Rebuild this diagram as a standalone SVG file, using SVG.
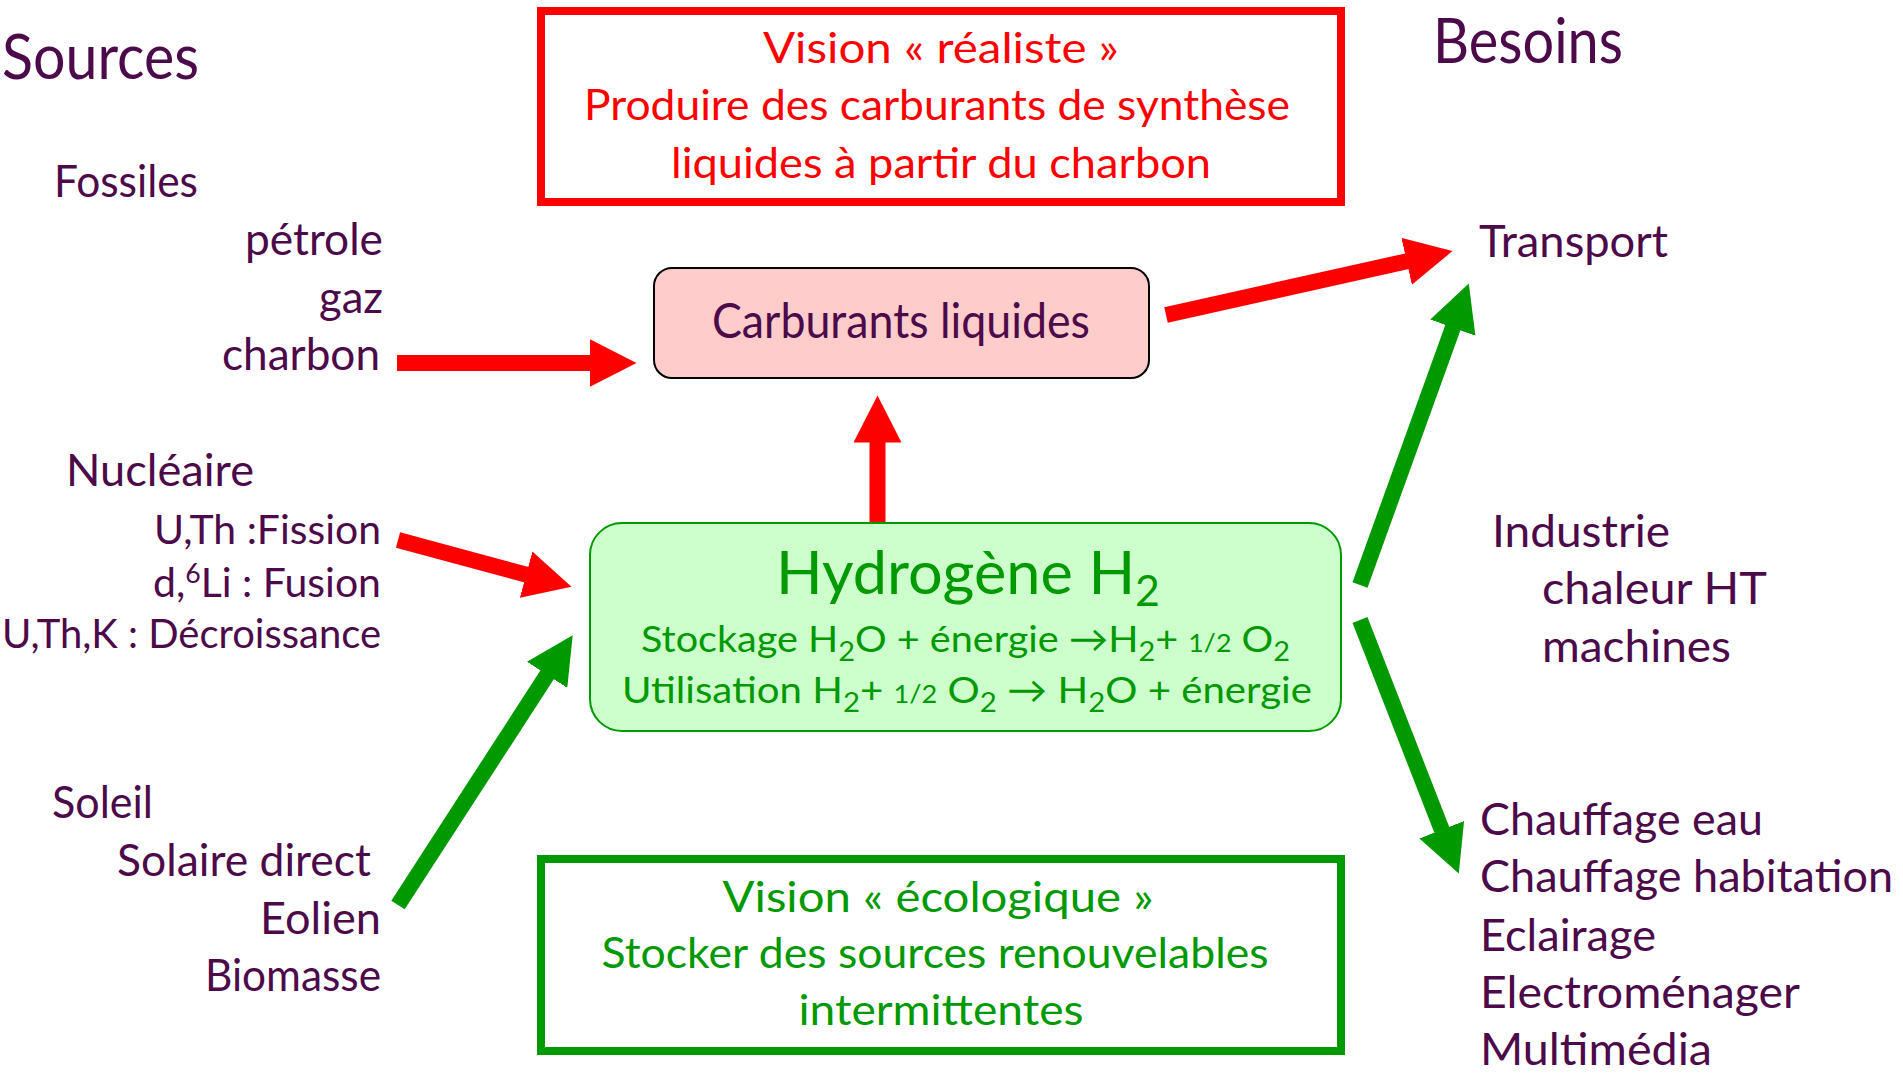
<svg xmlns="http://www.w3.org/2000/svg" width="1903" height="1073" viewBox="0 0 1903 1073">
<style>
text{font-family:Lato,"Open Sans","Liberation Sans",sans-serif;font-weight:400}
.p{fill:#4d0a4a}
.r{fill:#ff0000}
.g{fill:#009900}
.big{font-size:62px}
.mid{font-size:44px}
.sm{font-size:40px}
.vis{font-size:43px;text-anchor:middle}
.end{text-anchor:end}
.red{stroke:#ff0000;stroke-width:16;fill:none;marker-end:url(#hr)}
.grn{stroke:#009900;stroke-width:16;fill:none;marker-end:url(#hg)}
</style>
<defs>
<marker id="hr" markerUnits="userSpaceOnUse" markerWidth="48" markerHeight="48" refX="0.5" refY="24" orient="auto"><path d="M0,0 L47,24 L0,48 Z" fill="#ff0000"/></marker>
<marker id="hg" markerUnits="userSpaceOnUse" markerWidth="48" markerHeight="48" refX="0.5" refY="24" orient="auto"><path d="M0,0 L47,24 L0,48 Z" fill="#009900"/></marker>
</defs>
<rect width="1903" height="1073" fill="#ffffff"/>

<g id="sources">
<text class="p big" x="2" y="79" textLength="197" lengthAdjust="spacingAndGlyphs">Sources</text>
</g>
<g id="besoins">
<text class="p big" x="1433" y="63" textLength="190" lengthAdjust="spacingAndGlyphs">Besoins</text>
</g>

<g id="fossiles">
<text class="p mid" x="54" y="197" textLength="144" lengthAdjust="spacingAndGlyphs">Fossiles</text>
<text class="p mid end" x="383" y="255" textLength="138" lengthAdjust="spacingAndGlyphs">pétrole</text>
<text class="p mid end" x="383" y="313" textLength="64" lengthAdjust="spacingAndGlyphs">gaz</text>
<text class="p mid end" x="380" y="370" textLength="158" lengthAdjust="spacingAndGlyphs">charbon</text>
</g>

<g id="nucleaire">
<text class="p mid" x="66" y="486" textLength="188" lengthAdjust="spacingAndGlyphs">Nucléaire</text>
<text class="p sm end" x="381" y="544" textLength="227" lengthAdjust="spacingAndGlyphs">U,Th :Fission</text>
<text class="p sm end" x="381" y="597" textLength="228" lengthAdjust="spacingAndGlyphs">d,<tspan font-size="26" dy="-14">6</tspan><tspan dy="14">Li : Fusion</tspan></text>
<text class="p sm end" x="381" y="648" textLength="379" lengthAdjust="spacingAndGlyphs">U,Th,K : Décroissance</text>
</g>

<g id="soleil">
<text class="p mid" x="52" y="818" textLength="101" lengthAdjust="spacingAndGlyphs">Soleil</text>
<text class="p mid" x="117" y="876" textLength="254" lengthAdjust="spacingAndGlyphs">Solaire direct</text>
<text class="p mid end" x="381" y="934" textLength="121" lengthAdjust="spacingAndGlyphs">Eolien</text>
<text class="p mid end" x="381" y="991" textLength="176" lengthAdjust="spacingAndGlyphs">Biomasse</text>
</g>

<g id="vision-realiste">
<rect x="541" y="11" width="800" height="191" fill="none" stroke="#ff0000" stroke-width="8"/>
<text class="r vis" x="941" y="63" textLength="356" lengthAdjust="spacingAndGlyphs">Vision « réaliste »</text>
<text class="r vis" x="937" y="120" textLength="706" lengthAdjust="spacingAndGlyphs">Produire des carburants de synthèse</text>
<text class="r vis" x="941" y="178" textLength="540" lengthAdjust="spacingAndGlyphs">liquides à partir du charbon</text>
</g>

<g id="carburants">
<rect x="654" y="268" width="495" height="110" rx="18" ry="18" fill="#ffcccc" stroke="#000000" stroke-width="2"/>
<text class="p" font-size="48" text-anchor="middle" x="901" y="338" textLength="378" lengthAdjust="spacingAndGlyphs">Carburants liquides</text>
</g>

<g id="hydrogene">
<rect x="590" y="523" width="751" height="208" rx="32" ry="32" fill="#ccffcc" stroke="#009900" stroke-width="2"/>
<text class="g" font-size="60" x="776" y="594" textLength="384" lengthAdjust="spacingAndGlyphs">Hydrogène H<tspan font-size="42" dy="12">2</tspan></text>
<text class="g" font-size="37" x="641" y="652" textLength="649" lengthAdjust="spacingAndGlyphs">Stockage H<tspan font-size="27" dy="9">2</tspan><tspan dy="-9">O + énergie →H</tspan><tspan font-size="27" dy="9">2</tspan><tspan dy="-9">+ </tspan><tspan font-size="25">1/2</tspan><tspan> O</tspan><tspan font-size="27" dy="9">2</tspan></text>
<text class="g" font-size="37" x="622" y="703" textLength="690" lengthAdjust="spacingAndGlyphs">Utilisation H<tspan font-size="27" dy="9">2</tspan><tspan dy="-9">+ </tspan><tspan font-size="25">1/2</tspan><tspan> O</tspan><tspan font-size="27" dy="9">2</tspan><tspan dy="-9"> → H</tspan><tspan font-size="27" dy="9">2</tspan><tspan dy="-9">O + énergie</tspan></text>
</g>

<g id="vision-ecologique">
<rect x="541" y="859" width="800" height="192" fill="none" stroke="#009900" stroke-width="8"/>
<text class="g vis" x="938" y="912" textLength="431" lengthAdjust="spacingAndGlyphs">Vision « écologique »</text>
<text class="g vis" x="935" y="968" textLength="667" lengthAdjust="spacingAndGlyphs">Stocker des sources renouvelables</text>
<text class="g vis" x="941" y="1025" textLength="285" lengthAdjust="spacingAndGlyphs">intermittentes</text>
</g>

<g id="transport">
<text class="p mid" x="1479" y="257" textLength="189" lengthAdjust="spacingAndGlyphs">Transport</text>
</g>

<g id="industrie">
<text class="p mid" x="1492" y="547" textLength="178" lengthAdjust="spacingAndGlyphs">Industrie</text>
<text class="p mid" x="1542" y="604" textLength="225" lengthAdjust="spacingAndGlyphs">chaleur HT</text>
<text class="p mid" x="1542" y="662" textLength="189" lengthAdjust="spacingAndGlyphs">machines</text>
</g>

<g id="domestique">
<text class="p mid" x="1480" y="835" textLength="283" lengthAdjust="spacingAndGlyphs">Chauffage eau</text>
<text class="p mid" x="1480" y="892" textLength="413" lengthAdjust="spacingAndGlyphs">Chauffage habitation</text>
<text class="p mid" x="1480" y="951" textLength="176" lengthAdjust="spacingAndGlyphs">Eclairage</text>
<text class="p mid" x="1480" y="1008" textLength="320" lengthAdjust="spacingAndGlyphs">Electroménager</text>
<text class="p mid" x="1480" y="1065" textLength="232" lengthAdjust="spacingAndGlyphs">Multimédia</text>
</g>

<g id="connectors">
<line class="red" x1="397" y1="363" x2="590" y2="363"/>
<line class="red" x1="398" y1="540" x2="526.6" y2="574.7"/>
<line class="grn" x1="398" y1="905" x2="547.4" y2="674.4"/>
<line class="red" x1="877.5" y1="522" x2="877.5" y2="442"/>
<line class="red" x1="1166" y1="315" x2="1407.1" y2="261.2"/>
<line class="grn" x1="1360" y1="585" x2="1453" y2="327.2"/>
<line class="grn" x1="1360" y1="620" x2="1441.9" y2="830.2"/>
</g>
</svg>
